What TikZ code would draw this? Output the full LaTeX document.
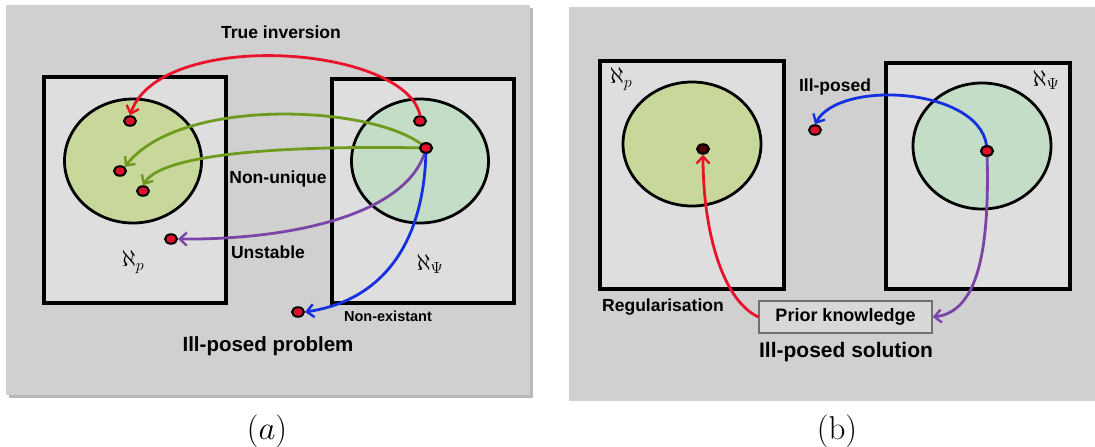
\documentclass[tikz,border=0pt]{standalone}
\usepackage{fix-cm}
\usepackage{fontspec}
\setsansfont{Liberation Sans}
\usetikzlibrary{arrows.meta,shapes.geometric}
\definecolor{panelgray}{HTML}{D0D0D0}
\definecolor{panelshadow}{HTML}{B8B8B8}
\definecolor{boxfill}{HTML}{DEDEDE}
\definecolor{pfill}{HTML}{C8D89A}
\definecolor{psifill}{HTML}{C4DDC6}
\definecolor{ared}{HTML}{E8132A}
\definecolor{agreen}{HTML}{6E9A1E}
\definecolor{apurple}{HTML}{7B45A8}
\definecolor{ablue}{HTML}{1530E0}
\definecolor{dotred}{HTML}{E0102A}
\definecolor{priorfill}{HTML}{D8D8D8}
\definecolor{priorline}{HTML}{707070}
\tikzset{
  spacebox/.style={draw=black,line width=3.4pt,fill=boxfill},
  setcirc/.style={draw=black,line width=2.8pt},
  pt/.style={ellipse,draw=black,fill=dotred,line width=2pt,minimum width=12pt,minimum height=9.5pt,inner sep=0pt},
  conn/.style={line width=2.8pt,-{Straight Barb[length=7pt,width=13pt,line width=2.4pt]}},
  lbl/.style={font=\sffamily\bfseries\fontsize{17.5}{20}\selectfont,inner sep=0pt},
  sym/.style={font=\fontsize{23}{26}\selectfont,inner sep=0pt}
}
\begin{document}
\begin{tikzpicture}[x=1pt,y=-1pt]
\useasboundingbox (0,0) rectangle (1095,447);
% panel backgrounds
\fill[panelshadow] (9,8) rectangle (533,398);
\fill[panelgray] (6,5) rectangle (530,395);
\fill[panelgray] (569,7) rectangle (1095,401);
% ---------------- panel (a)
\node[spacebox,minimum width=182pt,minimum height=226pt,inner sep=0pt] (Pa) at (135,190) {};
\node[spacebox,minimum width=182pt,minimum height=224pt,inner sep=0pt] (Sa) at (423,191) {};
\node[setcirc,fill=pfill,ellipse,minimum width=137pt,minimum height=124pt] (Ca) at (133,161) {};
\node[setcirc,fill=psifill,ellipse,minimum width=137pt,minimum height=124pt] (Da) at (420,161) {};
\node[sym] (alp) at (133,262) {$\aleph_{p}$};
\node[sym] (als) at (430,264) {$\aleph_{\Psi}$};
\node[pt] (a1) at (130,121) {};
\node[pt] (a2) at (120,171) {};
\node[pt] (a3) at (143,191) {};
\node[pt] (a4) at (171,239) {};
\node[pt] (b1) at (420,121) {};
\node[pt] (b2) at (426,148) {};
\node[pt] (a5) at (298,312) {};
\draw[conn,ared] (b1.north) .. controls (405,45) and (160,28) .. (a1.north);
\draw[conn,agreen] (b2.center) .. controls (380,105) and (180,95) .. (a2.north east);
\draw[conn,agreen] (b2.center) .. controls (330,146) and (165,148) .. (a3.north);
\draw[conn,apurple] (b2.center) .. controls (410,215) and (290,240) .. (a4.east);
\draw[conn,ablue] (b2.center) .. controls (425,240) and (385,300) .. (a5.east);
\node[pt] at (b2) {};
\node[lbl] (t1) at (281,32) {True inversion};
\node[lbl] (t2) at (278,179) {Non-unique};
\node[lbl] (t3) at (268,252) {Unstable};
\node[lbl,font=\sffamily\bfseries\fontsize{14.5}{16}\selectfont] (t4) at (388,316) {Non-existant};
\node[lbl,font=\sffamily\bfseries\fontsize{20.5}{24}\selectfont] (t5) at (268,346) {Ill-posed problem};
% ---------------- panel (b)
\node[spacebox,minimum width=184pt,minimum height=228pt,inner sep=0pt] (Pb) at (692,175) {};
\node[spacebox,minimum width=184pt,minimum height=226pt,inner sep=0pt] (Sb) at (978,176) {};
\node[setcirc,fill=pfill,ellipse,minimum width=138pt,minimum height=124pt] (Cb) at (692,144) {};
\node[setcirc,fill=psifill,ellipse,minimum width=138pt,minimum height=126pt] (Db) at (982,146) {};
\node[sym] (blp) at (621,79) {$\aleph_{p}$};
\node[sym] (bls) at (1046,80) {$\aleph_{\Psi}$};
\node[pt,fill=black!70!red] (c1) at (703,149) {};
\node[pt] (c2) at (987,151) {};
\node[pt] (c3) at (815,130) {};
\node[draw=priorline,fill=priorfill,line width=1.2pt,minimum width=173pt,minimum height=32pt,inner sep=0pt,font=\sffamily\bfseries\fontsize{18}{20}\selectfont] (prior) at (845.5,317) {Prior knowledge};
\draw[conn,ablue] (c2.center) .. controls (987,88) and (840,78) .. (c3.north);
\draw[conn,apurple] (c2.center) .. controls (990,250) and (978,312) .. (prior.east);
\draw[conn,ared] (prior.west) .. controls (722,300) and (703,230) .. (c1.south);
\node[pt] at (c2) {};
\node[lbl] (u1) at (835,87) {Ill-posed};
\node[lbl] (u2) at (663,307) {Regularisation};
\node[lbl,font=\sffamily\bfseries\fontsize{21}{24}\selectfont] (u3) at (846,352) {Ill-posed solution};
% captions
\node[font=\fontsize{33}{38}\selectfont,inner sep=0pt] (capa) at (267,431) {$(a)$};
\node[font=\fontsize{33}{38}\selectfont,inner sep=0pt] (capb) at (837,431) {(b)};
\end{tikzpicture}
\end{document}
